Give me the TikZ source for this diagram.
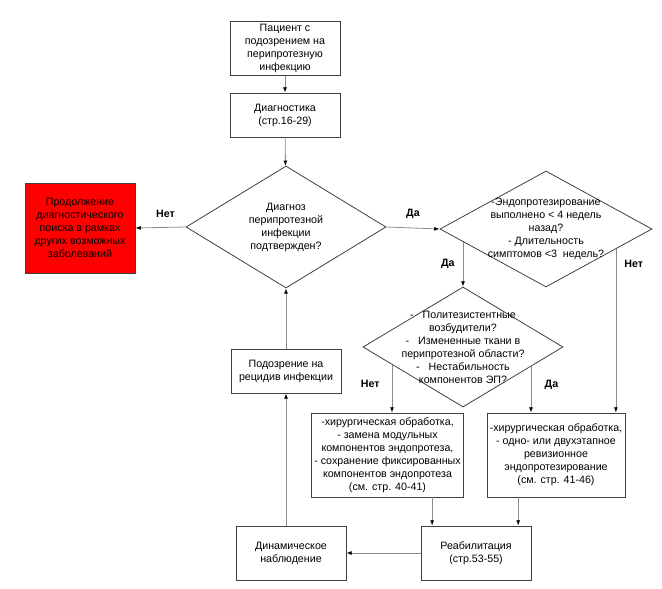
\documentclass[tikz,border=0pt]{standalone}
\usepackage{fontspec}
\setmainfont{Liberation Sans}
\usepackage{tikz}
\usepackage{xcolor}
\usetikzlibrary{arrows.meta,shapes.geometric,positioning}

\begin{document}
\begin{tikzpicture}[x=0.75pt, y=-0.75pt,
    >={Latex[black, length=4pt, width=3pt]},
    txt/.style={font=\fontsize{8}{9.75}\selectfont, align=center},
    box/.style={txt, draw=black!75, line width=0.6pt, inner sep=2pt},
    dia/.style={txt, diamond, draw=black!75, line width=0.6pt, inner sep=-7pt},
    conn/.style={->, draw=black!45, line width=0.6pt},
    lbl/.style={font=\fontsize{8}{9.75}\selectfont\bfseries, inner sep=1pt}]
    \useasboundingbox (0, 0) rectangle (662, 589);

    \node[box, minimum width=82.5pt, minimum height=39.75pt] at (285, 48.5) (start) {Пациент с\\подозрением на\\перипротезную\\инфекцию};
    \node[box, minimum width=82.5pt, minimum height=33pt] at (285, 115) (diag) {Диагностика\\(стр.16-29)};
    \node[dia, shape aspect=1.64, minimum width=150pt, minimum height=91.5pt] at (286, 227) (confirm) {Диагноз\\перипротезной\\инфекции\\подтвержден?};
    \node[box, fill=red, minimum width=82.5pt, minimum height=67.5pt] at (80, 228) (other) {Продолжение\\диагностического\\поиска в рамках\\других возможных\\заболеваний};
    \node[dia, shape aspect=1.83, minimum width=159pt, minimum height=87pt] at (546, 229) (early) {-Эндопротезирование\\выполнено < 4 недель\\назад?\\- Длительность\\симптомов <3~~недель?};
    \node[dia, shape aspect=1.667, minimum width=150pt, minimum height=90pt] at (463, 347) (risk) {-~~~Политезистентные\\возбудители?\\-~~~Измененные ткани в\\перипротезной области?\\-~~~Нестабильность\\компонентов ЭП?};
    \node[box, minimum width=82.5pt, minimum height=33pt] at (286, 371) (relapse) {Подозрение на\\рецидив инфекции};
    \node[box, minimum width=112.5pt, minimum height=63pt] at (387.5, 455) (keep) {-хирургическая обработка,\\- замена модульных\\компонентов эндопротеза,\\- сохранение фиксированных\\компонентов эндопротеза\\(см. стр. 40-41)};
    \node[box, minimum width=103.5pt, minimum height=63pt] at (556, 455) (revis) {-хирургическая обработка,\\- одно- или двухэтапное\\ревизионное\\эндопротезирование\\(см. стр. 41-46)};
    \node[box, minimum width=82.5pt, minimum height=40.5pt] at (476, 553) (rehab) {Реабилитация\\(стр.53-55)};
    \node[box, minimum width=82.5pt, minimum height=40.5pt] at (291, 553) (observ) {Динамическое\\наблюдение};

    % main column
    \draw[conn] (start) -- (diag);
    \draw[conn] (diag) -- (confirm);
    \draw[conn] (confirm.west) -- node[lbl, above=6pt, pos=0.4] {Нет} (other.east);
    \draw[conn] (confirm.east) -- node[lbl, above=6pt] {Да} (early.west);

    % early / late
    \draw[conn] (early.189 -| risk.north) -- node[lbl, left=5pt] {Да} (risk.north);
    \draw[conn] (early.344) -- node[lbl, right=5pt, pos=0.09] {Нет} (early.344 |- revis.north);

    % risk factors
    \draw[conn] (risk.194) -- node[lbl, left=8pt, pos=0.4] {Нет} (risk.194 |- keep.north);
    \draw[conn] (risk.344) -- node[lbl, right=9pt, pos=0.4] {Да} (risk.344 |- revis.north);

    % rehab and follow-up
    \draw[conn] (keep.south -| rehab.148) -- (rehab.148);
    \draw[conn] (revis.south -| rehab.33) -- (rehab.33);
    \draw[conn] (rehab.west) -- (observ.east);
    \draw[conn] (observ.north -| relapse.south) -- (relapse.south);
    \draw[conn] (relapse) -- (confirm.south);
  \end{tikzpicture}
\end{document}
